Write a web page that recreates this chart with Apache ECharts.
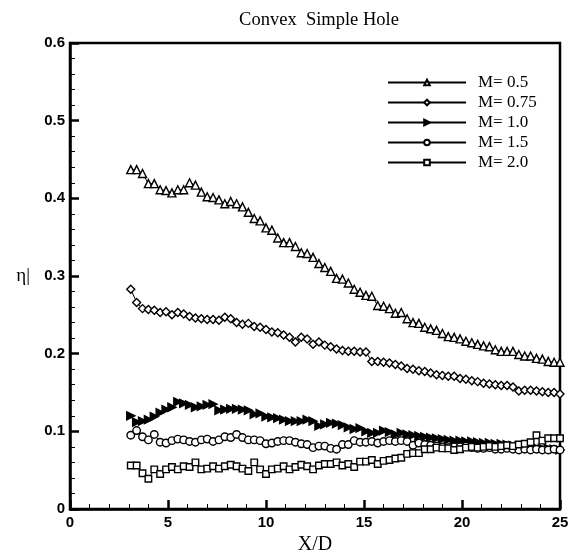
<!DOCTYPE html>
<html><head><meta charset="utf-8">
<script src="https://cdn.jsdelivr.net/npm/echarts@6/dist/echarts.min.js"></script>
<style>html,body{margin:0;padding:0;background:#fff;overflow:hidden}#c{width:570px;height:554px}</style>
</head><body><div id="c"></div>
<script>
var X = [3.1,3.4,3.7,4.0,4.3,4.6,4.9,5.2,5.5,5.8,6.1,6.4,6.7,7.0,7.3,7.6,7.9,8.2,8.5,8.8,9.1,9.4,9.7,10.0,10.3,10.6,10.9,11.2,11.5,11.8,12.1,12.4,12.7,13.0,13.3,13.6,13.9,14.2,14.5,14.8,15.1,15.4,15.7,16.0,16.3,16.6,16.9,17.2,17.5,17.8,18.1,18.4,18.7,19.0,19.3,19.6,19.9,20.2,20.5,20.8,21.1,21.4,21.7,22.0,22.3,22.6,22.9,23.2,23.5,23.8,24.1,24.4,24.7,25.0];
var M05 = [.437,.437,.432,.419,.419,.411,.41,.407,.411,.411,.42,.417,.408,.402,.401,.398,.393,.396,.393,.389,.382,.374,.371,.362,.359,.349,.343,.343,.338,.33,.329,.324,.316,.311,.306,.297,.296,.291,.283,.279,.275,.274,.262,.261,.258,.252,.253,.245,.24,.239,.234,.232,.23,.226,.222,.221,.219,.216,.214,.212,.21,.209,.205,.203,.203,.203,.199,.197,.197,.194,.193,.19,.189,.189];
var M075 = [.283,.266,.258,.257,.256,.253,.254,.25,.253,.251,.248,.246,.245,.244,.244,.243,.247,.245,.24,.238,.239,.235,.234,.231,.228,.227,.224,.221,.215,.221,.219,.212,.215,.211,.209,.206,.204,.203,.203,.202,.202,.19,.19,.189,.188,.186,.184,.181,.18,.178,.177,.175,.173,.172,.171,.171,.168,.167,.165,.164,.162,.161,.16,.159,.159,.157,.152,.153,.153,.152,.151,.15,.15,.148];
var M10 = [.12,.112,.113,.115,.119,.124,.128,.131,.138,.136,.134,.131,.132,.134,.135,.127,.128,.129,.129,.128,.127,.122,.123,.119,.118,.117,.115,.113,.113,.113,.115,.113,.107,.109,.111,.11,.108,.105,.103,.104,.1,.098,.098,.101,.099,.096,.098,.096,.095,.094,.093,.092,.091,.09,.089,.088,.088,.087,.087,.086,.085,.085,.084,.084,.083,.082,.081,.081,.08,.079,.078,.078,.077,.076];
var M15 = [.095,.101,.093,.089,.096,.086,.085,.088,.09,.089,.087,.086,.089,.09,.087,.089,.093,.092,.096,.092,.089,.089,.088,.084,.085,.087,.088,.088,.086,.084,.083,.079,.081,.081,.078,.077,.083,.083,.088,.086,.086,.087,.085,.087,.088,.087,.088,.087,.082,.085,.083,.082,.081,.08,.079,.08,.08,.081,.079,.078,.078,.079,.077,.077,.078,.077,.076,.077,.076,.077,.076,.076,.077,.076];
var M20 = [.056,.056,.046,.039,.051,.045,.051,.054,.051,.055,.054,.06,.051,.052,.055,.052,.055,.057,.055,.052,.049,.06,.051,.045,.051,.052,.055,.051,.054,.057,.055,.051,.056,.058,.058,.06,.056,.058,.054,.061,.061,.063,.058,.062,.063,.065,.066,.071,.072,.072,.077,.077,.079,.078,.078,.076,.077,.079,.08,.079,.08,.081,.08,.081,.082,.081,.083,.084,.086,.095,.088,.091,.091,.091];
var NAMES = ['M= 0.5','M= 0.75','M= 1.0','M= 1.5','M= 2.0'];
var XTICKS = [0,5,10,15,20,25];
var YTICKS = [0,0.1,0.2,0.3,0.4,0.5,0.6];

function pairs(ys){ return X.map(function(x,i){ return [x, ys[i]]; }); }
var serif = 'Liberation Serif';
var sans = 'Liberation Sans';
function mk(name, ys, symbol, size, fill, rot){
  return {
    name: name, type: 'line', data: pairs(ys),
    symbol: symbol, symbolSize: size, symbolRotate: rot || 0,
    showAllSymbol: true,
    lineStyle: {color: '#000', width: 1},
    itemStyle: {color: fill, borderColor: '#000', borderWidth: 1.4},
    emphasis: {disabled: true}, animation: false
  };
}
var chart = echarts.init(document.getElementById('c'), null, {renderer: 'canvas'});
chart.setOption({
  animation: false,
  backgroundColor: '#fff',
  title: {text: 'Convex  Simple Hole', left: 314, top: 6, textAlign: 'center',
    textStyle: {fontFamily: serif, fontWeight: 'normal', fontSize: 18.5, color: '#000'}},
  grid: {left: 70, right: 10, top: 43, bottom: 45, containLabel: false, outerBoundsMode: 'none',
    show: true, borderColor: '#000', borderWidth: 2.5, backgroundColor: 'transparent'},
  legend: {
    orient: 'vertical', left: 387, top: 74, padding: 0, itemWidth: 78, itemHeight: 7, itemGap: 3,
    data: NAMES,
    textStyle: {fontFamily: serif, fontSize: 17, color: '#000', padding: [0,0,0,7]},
    inactiveColor: '#000'
  },
  xAxis: {
    type: 'value', min: XTICKS[0], max: XTICKS[XTICKS.length-1], interval: XTICKS[1]-XTICKS[0],
    name: 'X/D', nameLocation: 'middle', nameGap: 26, nameMoveOverlap: false,
    nameTextStyle: {fontFamily: serif, fontSize: 20, color: '#000'},
    axisLine: {show: true, lineStyle: {color: '#000', width: 2.5}},
    axisTick: {inside: true, length: 9, lineStyle: {color: '#000', width: 2.5}},
    minorTick: {show: true, splitNumber: 5, length: 5, lineStyle: {color: '#000', width: 1}},
    axisLabel: {fontFamily: sans, fontWeight: 'bold', fontSize: 15, color: '#000', margin: 6},
    splitLine: {show: false}
  },
  yAxis: {
    type: 'value', min: YTICKS[0], max: YTICKS[YTICKS.length-1], interval: 0.1,
    name: 'η|', nameLocation: 'middle', nameRotate: 0, nameGap: 40, nameMoveOverlap: false,
    nameTextStyle: {fontFamily: serif, fontSize: 19, color: '#000'},
    axisLine: {show: true, lineStyle: {color: '#000', width: 2.5}},
    axisTick: {inside: true, length: 9, lineStyle: {color: '#000', width: 2.5}},
    minorTick: {show: true, splitNumber: 5, length: 5, lineStyle: {color: '#000', width: 1}},
    axisLabel: {fontFamily: sans, fontWeight: 'bold', fontSize: 15, color: '#000', margin: 5},
    splitLine: {show: false}
  },
  series: [
    mk(NAMES[0], M05, 'triangle', 8, '#fff'),
    mk(NAMES[1], M075, 'diamond', 8, '#fff'),
    mk(NAMES[2], M10, 'triangle', 8, '#000', -90),
    mk(NAMES[3], M15, 'circle', 7.5, '#fff'),
    mk(NAMES[4], M20, 'rect', 6.5, '#fff')
  ]
});
</script></body></html>
